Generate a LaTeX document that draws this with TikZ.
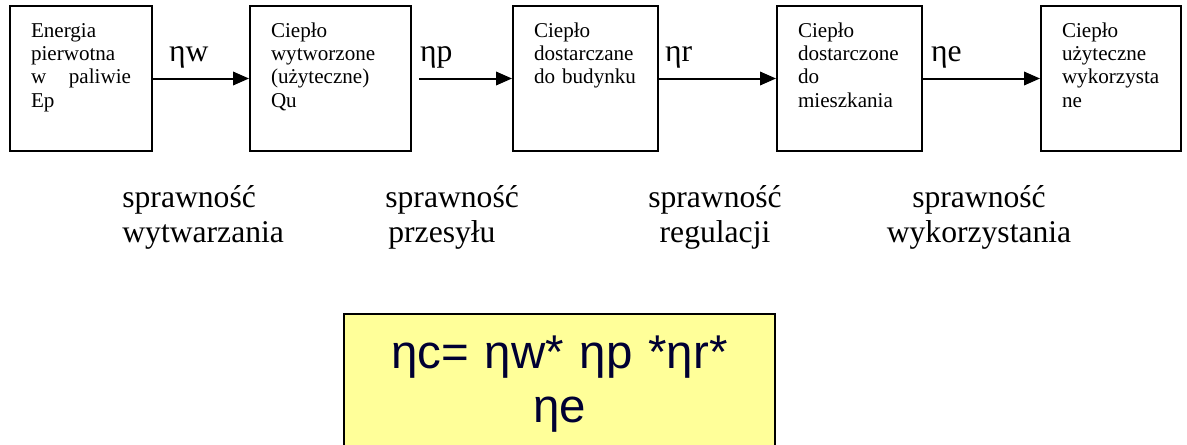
\documentclass[tikz,border=0pt]{standalone}
\usepackage{fontspec}
\setmainfont{Liberation Serif}
\newfontfamily\formulafont{Liberation Sans}
\usetikzlibrary{arrows.meta,positioning}
\definecolor{notefill}{HTML}{FFFF99}
\definecolor{noteink}{HTML}{000033}

\begin{document}
\begin{tikzpicture}[
    stage/.style={draw,line width=0.04cm,align=left,text width=2cm,
      inner xsep=0.42cm,inner ysep=0pt,text height=0.62cm,text depth=2.28cm,
      font=\fontsize{12}{13.3}\selectfont},
    flow/.style={line width=0.04cm,-{Triangle[length=0.32cm,width=0.27cm]}},
    eta/.style={anchor=base west,inner sep=0pt,yshift=0.34cm,
      font=\fontsize{18}{20}\selectfont},
    caption/.style={inner sep=0pt,font=\fontsize{18}{19.4}\selectfont},
    formula/.style={draw,line width=0.03cm,fill=notefill,text=noteink,
      align=center,text width=8.62cm,inner xsep=0pt,inner ysep=0pt,
      text height=1.1cm,text depth=3cm,
      font=\formulafont\fontsize{27}{30.7}\selectfont}]
  \useasboundingbox (0,0) rectangle (23.74,8.88);
  \clip (0,0) rectangle (23.74,8.88);
  % chain of heat flow
  \node[stage] (e1) at (1.62,7.31) {Energia\\ pierwotna\\ w\hfill paliwie\\ Ep};
  \node[stage,text width=2.38cm,right=1.92cm of e1] (q2) {Ciepło\\ wytworzone\\ (użyteczne)\\ Qu};
  \node[stage,text width=2.06cm,right=2.0cm of q2] (q3) {Ciepło\\ dostarczane\\ do budynku};
  \node[stage,text width=2.06cm,right=2.34cm of q3] (q4) {Ciepło\\ dostarczone\\ do\\ mieszkania};
  \node[stage,text width=1.96cm,right=2.34cm of q4] (q5) {Ciepło\\ użyteczne\\ wykorzysta\\ ne};
  \draw[flow] (e1) -- node[eta,pos=0,xshift=0.3cm] {ηw} (q2);
  \draw[flow,shorten <=0.14cm] (q2) -- node[eta,pos=0,xshift=0.14cm] {ηp} (q3);
  \draw[flow] (q3) -- node[eta,pos=0,xshift=0.1cm] {ηr} (q4);
  \draw[flow] (q4) -- node[eta,pos=0,xshift=0.14cm] {ηe} (q5);
  % efficiencies
  \node[caption,align=left,anchor=base west] (s1) at (2.44,4.04) {sprawność\\ wytwarzania};
  \node[caption,align=left,anchor=base west] (s2) at (7.70,4.04) {sprawność\\ \hspace{0.06cm}przesyłu};
  \node[caption,align=center,anchor=base] (s3) at (14.3,4.04) {sprawność\\ regulacji};
  \node[caption,align=center,anchor=base] (s4) at (19.58,4.04) {sprawność\\ wykorzystania};
  \node[formula,anchor=north] (total) at (11.19,2.62) {ηc= ηw* ηp *ηr*\\ ηe};
\end{tikzpicture}
\end{document}
